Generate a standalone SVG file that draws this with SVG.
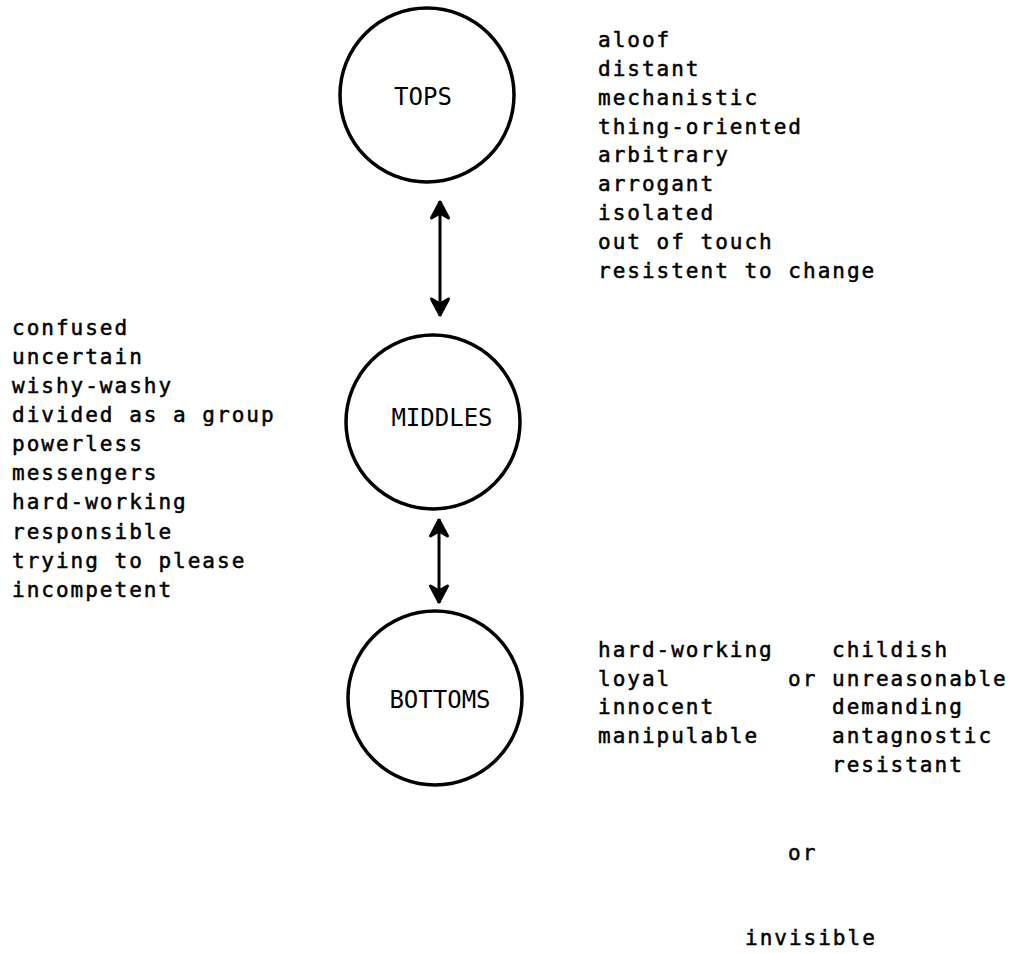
<svg xmlns="http://www.w3.org/2000/svg" width="1012" height="953" viewBox="0 0 1012 953">
<defs>
<style>
.t{font-family:"DejaVu Sans Mono","Liberation Mono",monospace;font-size:21px;letter-spacing:2px;fill:#000;stroke:#000;stroke-width:0.5}
.n{font-family:"DejaVu Sans Mono","Liberation Mono",monospace;font-size:24px;fill:#000;text-anchor:middle}
.c{fill:#fff;stroke:#000;stroke-width:3.5}
.a{stroke:#000;stroke-width:3;fill:none;marker-start:url(#ah);marker-end:url(#ah)}
</style>
<marker id="ah" viewBox="-20 -12 24 24" markerWidth="24" markerHeight="24" refX="0" refY="0" orient="auto-start-reverse" markerUnits="userSpaceOnUse">
<path d="M-17,-8.5 L-1,0 L-17,8.5 L-12,0 Z" fill="#000" stroke="#000" stroke-width="3" stroke-linejoin="round"/>
</marker>
</defs>
<rect width="1012" height="953" fill="#fff"/>
<g id="connectors">
<line class="a" x1="440" y1="201" x2="440" y2="316"/>
<line class="a" x1="439" y1="519" x2="439" y2="603"/>
</g>
<g id="tops">
<circle class="c" cx="427" cy="95" r="87"/>
<text class="n" x="423" y="105">TOPS</text>
</g>
<g id="middles">
<circle class="c" cx="433" cy="422" r="87"/>
<text class="n" x="442" y="426">MIDDLES</text>
</g>
<g id="bottoms">
<circle class="c" cx="435" cy="698" r="87"/>
<text class="n" x="440" y="708">BOTTOMS</text>
</g>
<g id="tops-traits">
<text class="t" x="598" y="47">aloof</text>
<text class="t" x="598" y="76">distant</text>
<text class="t" x="598" y="105">mechanistic</text>
<text class="t" x="598" y="134">thing-oriented</text>
<text class="t" x="598" y="162">arbitrary</text>
<text class="t" x="598" y="191">arrogant</text>
<text class="t" x="598" y="220">isolated</text>
<text class="t" x="598" y="249">out of touch</text>
<text class="t" x="598" y="278">resistent to change</text>
</g>
<g id="middles-traits">
<text class="t" x="12" y="335">confused</text>
<text class="t" x="12" y="364">uncertain</text>
<text class="t" x="12" y="393">wishy-washy</text>
<text class="t" x="12" y="422">divided as a group</text>
<text class="t" x="12" y="451">powerless</text>
<text class="t" x="12" y="480">messengers</text>
<text class="t" x="12" y="509">hard-working</text>
<text class="t" x="12" y="539">responsible</text>
<text class="t" x="12" y="568">trying to please</text>
<text class="t" x="12" y="597">incompetent</text>
</g>
<g id="bottoms-traits">
<text class="t" x="598" y="657">hard-working</text>
<text class="t" x="598" y="686">loyal</text>
<text class="t" x="598" y="714">innocent</text>
<text class="t" x="598" y="743">manipulable</text>
<text class="t" x="788" y="686">or</text>
<text class="t" x="832" y="657">childish</text>
<text class="t" x="832" y="686">unreasonable</text>
<text class="t" x="832" y="714">demanding</text>
<text class="t" x="832" y="743">antagnostic</text>
<text class="t" x="832" y="772">resistant</text>
<text class="t" x="788" y="860">or</text>
<text class="t" x="745" y="945">invisible</text>
</g>
</svg>
